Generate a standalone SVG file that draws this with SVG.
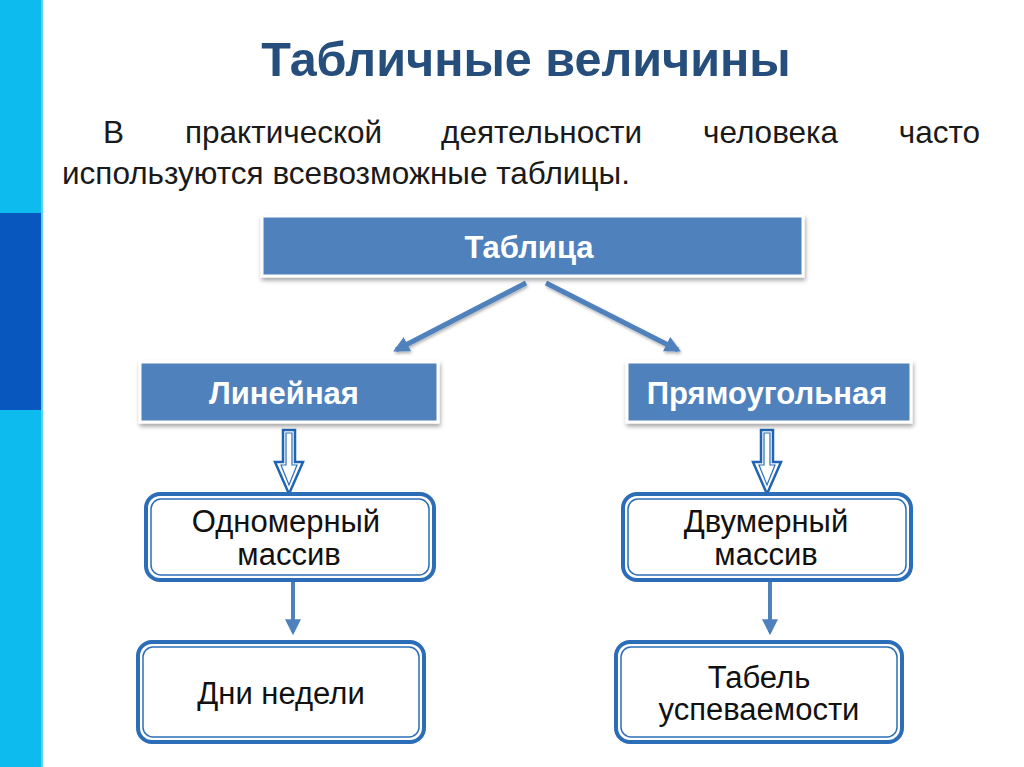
<svg xmlns="http://www.w3.org/2000/svg" width="1024" height="767" viewBox="0 0 1024 767">
<defs>
<filter id="sh" x="-10%" y="-20%" width="120%" height="150%">
<feDropShadow dx="1" dy="3" stdDeviation="2" flood-color="#000" flood-opacity="0.35"/>
</filter>
<filter id="lsh" x="-20%" y="-20%" width="140%" height="150%">
<feDropShadow dx="1" dy="2" stdDeviation="1.5" flood-color="#000" flood-opacity="0.3"/>
</filter>
<marker id="ah" viewBox="0 0 10 10" refX="8" refY="5" markerWidth="3.2" markerHeight="3.2" orient="auto" markerUnits="strokeWidth">
<path d="M0,0 L10,5 L0,10 Z" fill="#4f81bd"/>
</marker>
<marker id="ah2" viewBox="0 0 10 10" refX="8" refY="5" markerWidth="4" markerHeight="4" orient="auto" markerUnits="strokeWidth">
<path d="M0,0 L10,5 L0,10 Z" fill="#4f81bd"/>
</marker>
</defs>
<style>
.title{font-family:"Liberation Sans",Arial,sans-serif;font-weight:bold;fill:#254e7c}
.para{font-family:"Liberation Sans",Arial,sans-serif;font-size:31.5px;fill:#1a1a1a}
.hb{fill:#4f81bd;stroke:#fff;stroke-width:3}
.ht{font-family:"Liberation Sans",Arial,sans-serif;font-weight:bold;font-size:31px;fill:#fff;text-anchor:middle}
.ob{fill:#fff;stroke:#2c6db8;stroke-width:4}
.ib{fill:none;stroke:#2c6db8;stroke-width:1.5}
.bt{font-family:"Liberation Sans",Arial,sans-serif;font-size:31px;fill:#111;text-anchor:middle}
.conn{stroke:#4f81bd;stroke-width:5;fill:none}
.conn2{stroke:#4f81bd;stroke-width:4;fill:none}
.dbl{fill:#fff;stroke:#1f63b4;stroke-width:2.5}
.dbli{fill:none;stroke:#2c6db8;stroke-width:1.2}
</style>
<rect width="1024" height="767" fill="#fff"/>
<rect x="0" y="0" width="41" height="767" fill="#0dbbef"/>
<rect x="0" y="213" width="41" height="197" fill="#0857bf"/>
<rect x="41" y="0" width="2" height="767" fill="#5fd3f3"/>

<text class="title" x="526" y="76" font-size="48.5" text-anchor="middle">Табличные величины</text>
<g id="para">
<text class="para" x="103" y="143">В</text>
<text class="para" x="185" y="143">практической</text>
<text class="para" x="441" y="143">деятельности</text>
<text class="para" x="703" y="143">человека</text>
<text class="para" x="980" y="143" text-anchor="end">часто</text>
<text class="para" x="62" y="184">используются всевозможные таблицы.</text>
</g>

<g id="connectors">
<line class="conn" x1="526" y1="283" x2="396" y2="350" marker-end="url(#ah)" filter="url(#lsh)"/>
<line class="conn" x1="546" y1="283" x2="678" y2="350" marker-end="url(#ah)" filter="url(#lsh)"/>
<g id="dbl-left">
<path class="dbl" d="M283,430 H295 V462 H303 L289,494 L275,462 H283 Z"/>
<path class="dbli" d="M286,433 H292 V465 H297 L289,485 L281,465 H286 Z"/>
</g>
<g id="dbl-right">
<path class="dbl" d="M761,430 H773 V462 H781 L767,494 L753,462 H761 Z"/>
<path class="dbli" d="M764,433 H770 V465 H775 L767,485 L759,465 H764 Z"/>
</g>
<line class="conn2" x1="293" y1="582" x2="293" y2="632" marker-end="url(#ah2)"/>
<line class="conn2" x1="770" y1="582" x2="770" y2="632" marker-end="url(#ah2)"/>
</g>

<g id="tablica">
<rect class="hb" x="262" y="216" width="541" height="60" filter="url(#sh)"/>
<text class="ht" x="529" y="258" font-size="33.5">Таблица</text>
</g>
<g id="lineinaya">
<rect class="hb" x="140" y="362" width="298" height="60" filter="url(#sh)"/>
<text class="ht" x="284" y="404">Линейная</text>
</g>
<g id="pryamougolnaya">
<rect class="hb" x="627" y="362" width="284" height="60" filter="url(#sh)"/>
<text class="ht" x="767" y="404">Прямоугольная</text>
</g>

<g id="odnomerny">
<rect class="ob" x="146" y="494" width="288" height="86" rx="14"/>
<rect class="ib" x="151" y="499" width="278" height="76" rx="10"/>
<text class="bt" x="286" y="532">Одномерный</text>
<text class="bt" x="289" y="565">массив</text>
</g>
<g id="dvumerny">
<rect class="ob" x="623" y="494" width="288" height="86" rx="14"/>
<rect class="ib" x="628" y="499" width="278" height="76" rx="10"/>
<text class="bt" x="766" y="532">Двумерный</text>
<text class="bt" x="766" y="565">массив</text>
</g>
<g id="dni">
<rect class="ob" x="138" y="642" width="286" height="100" rx="14" stroke-width="5"/>
<rect class="ib" x="143" y="647" width="276" height="90" rx="10"/>
<text class="bt" x="281" y="704">Дни недели</text>
</g>
<g id="tabel">
<rect class="ob" x="616" y="642" width="286" height="100" rx="14" stroke-width="5"/>
<rect class="ib" x="621" y="647" width="276" height="90" rx="10"/>
<text class="bt" x="759" y="688">Табель</text>
<text class="bt" x="759" y="720">успеваемости</text>
</g>
</svg>
